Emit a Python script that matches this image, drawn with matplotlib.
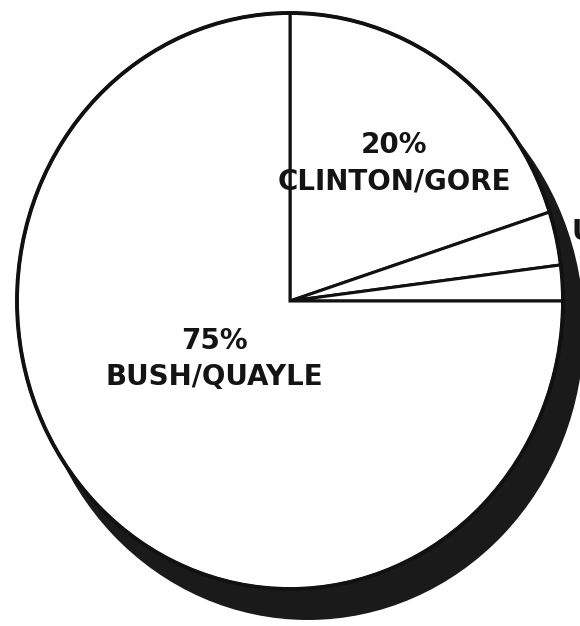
import matplotlib.pyplot as plt
from matplotlib.patches import Ellipse

# 1992 poll shares
candidates = ['CLINTON/GORE', 'OTHER', 'UNDECIDED', 'BUSH/QUAYLE']
shares = [20, 3, 2, 75]
labels = ['20%\nCLINTON/GORE', '', '', '75%\nBUSH/QUAYLE']

# pie placement in pixels (slightly taller than wide)
cx, cy = 290, 301
rx, ry = 273, 288
W, H = 580, 626

fig = plt.figure(figsize=(W / 100, H / 100), dpi=100)
ax = fig.add_axes([0, 0, 1, 1])

# drop shadow behind the pie, a touch larger and shifted down-right
grow = 3
shadow = Ellipse((18 / rx, -28 / ry), 2 + 2 * grow / rx, 2 + 2 * grow / ry,
                 facecolor='#1a1a1a', edgecolor='none', zorder=1)
ax.add_patch(shadow)

wedges, _ = ax.pie(
    shares,
    startangle=90,
    counterclock=False,
    radius=1,
    center=(0, 0),
    colors=['white'] * len(shares),
    wedgeprops=dict(edgecolor='#111111', linewidth=2.2, zorder=2),
    frame=True,
)
ax.set_xlim(-cx / rx, (W - cx) / rx)
ax.set_ylim((cy - H) / ry, cy / ry)
ax.set_aspect('auto')
ax.axis('off')

# thicker rim
rim = Ellipse((0, 0), 2, 2, facecolor='none', edgecolor='#111111',
              linewidth=2.8, zorder=3)
ax.add_patch(rim)


def px(x, y):
    return (x - cx) / rx, (cy - y) / ry


font = dict(fontfamily='DejaVu Sans', fontweight='bold', fontsize=20,
            color='#141414', ha='center', va='center', linespacing=1.4,
            zorder=4)
ax.text(*px(394, 163), labels[0], **font)
ax.text(*px(214, 359), labels[3], **font)
ax.text(*px(571, 232), candidates[2], fontfamily='DejaVu Sans',
        fontweight='bold', fontsize=20, color='#141414', ha='left',
        va='center', zorder=4)

fig.savefig('out.png', dpi=100, facecolor='white')
